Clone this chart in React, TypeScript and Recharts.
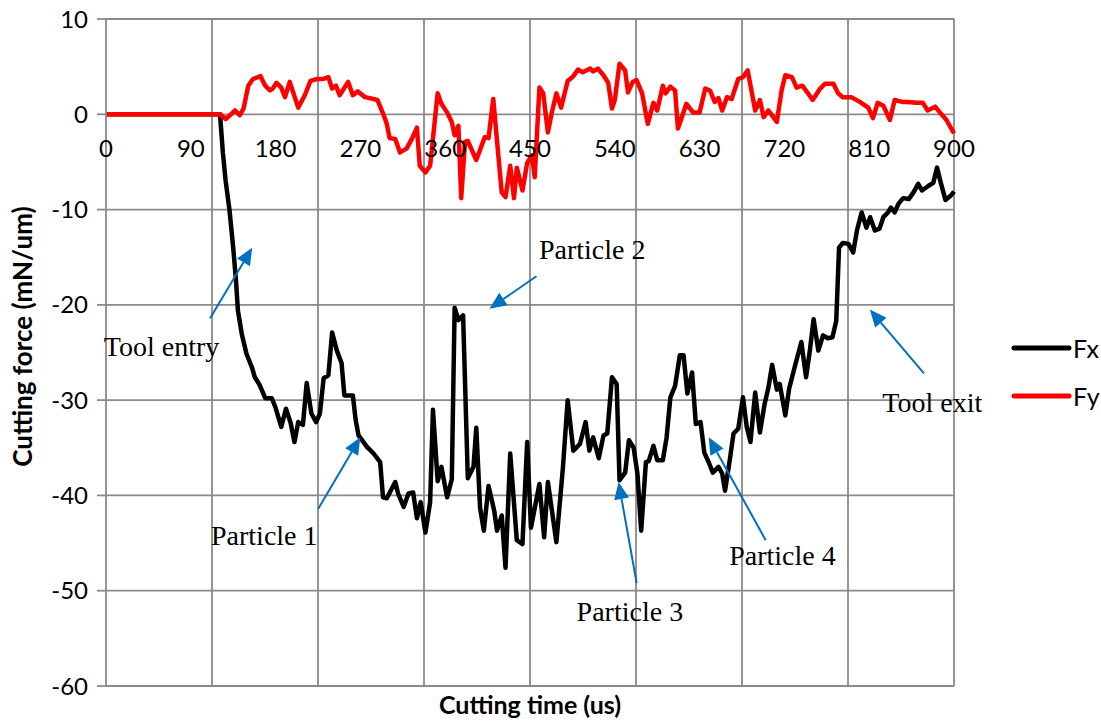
import React from 'react'
import {
  LineChart,
  Line,
  XAxis,
  YAxis,
  CartesianGrid,
  ReferenceLine,
  ReferenceDot,
  Legend,
} from 'recharts'

// Fx: cutting force along x (time in us, force in mN/um)
const fxTime = [
  0, 121, 124, 127, 131, 135, 138, 140, 144, 149, 155, 158, 163, 169, 176, 180, 186, 191, 196, 200,
  204, 209, 213, 218, 223, 227, 231, 236, 240, 245, 250, 253, 262, 265, 268, 277, 284, 291, 294, 298,
  307, 310, 316, 321, 326, 330, 334, 339, 344, 347, 352, 356, 362, 367, 370, 374, 379, 384, 390, 393,
  397, 401, 406, 412, 415, 420, 424, 429, 436, 442, 447, 451, 460, 465, 469, 478, 485, 490, 496, 503,
  509, 513, 517, 523, 528, 532, 537, 542, 545, 551, 555, 560, 564, 568, 573, 576, 581, 585, 591, 595,
  599, 604, 609, 613, 617, 622, 626, 631, 635, 640, 644, 650, 654, 657, 662, 666, 671, 676, 680, 684,
  689, 694, 699, 703, 707, 712, 715, 721, 725, 731, 738, 743, 747, 751, 756, 761, 766, 771, 775, 778,
  782, 788, 793, 797, 802, 807, 811, 816, 821, 825, 830, 833, 837, 841, 846, 852, 857, 862, 866, 873,
  878, 882, 886, 891, 897, 900,
]
const fxForce = [
  0, 0, -4, -7, -10, -14, -17.5, -20.6, -23, -25.1, -26.6, -27.6, -28.4, -29.8, -29.8, -30.8, -32.8, -30.9, -32.4, -34.4,
  -32.3, -32.6, -28.2, -31.4, -32.3, -31.4, -27.7, -27.4, -22.9, -24.8, -26.1, -29.5, -29.5, -32.1, -33.7, -34.9, -35.6, -36.5, -40.2, -40.3,
  -38.6, -39.8, -41.2, -39.8, -39.7, -42.4, -40.7, -43.9, -40.7, -31.0, -38.5, -37.0, -40.2, -38.3, -20.3, -21.6, -21.1, -38.2, -37.0, -32.9,
  -41.3, -43.7, -39.0, -41.6, -43.7, -42.1, -47.6, -35.6, -44.7, -45.1, -34.4, -43.4, -38.8, -44.4, -38.6, -44.9, -37.0, -30.0, -35.3, -34.6,
  -32.3, -35.3, -33.9, -36.1, -33.7, -33.5, -27.6, -28.3, -38.4, -37.6, -34.2, -35.0, -37.7, -43.7, -36.5, -36.4, -34.8, -36.3, -36.3, -33.9,
  -29.7, -28.5, -25.3, -25.3, -29.3, -27.1, -32.5, -32.3, -35.5, -36.6, -37.6, -37.0, -37.7, -39.5, -36.3, -33.5, -33.0, -29.7, -32.8, -34.4,
  -29.2, -33.4, -30.4, -28.7, -26.3, -28.9, -28.3, -31.6, -28.8, -26.5, -23.9, -27.6, -24.8, -21.5, -24.8, -23.2, -23.5, -23.4, -21.7, -14.0,
  -13.5, -13.6, -14.5, -12.2, -10.3, -11.9, -10.8, -12.2, -12.0, -10.8, -10.3, -9.8, -10.3, -9.4, -8.8, -8.9, -8.2, -7.3, -8.0, -7.5,
  -7.2, -5.6, -7.2, -9.0, -8.5, -8.1,
]

// Fy: cutting force along y
const fyTime = [
  0, 121, 127, 137, 142, 146, 151, 156, 164, 169, 174, 177, 181, 186, 190, 195, 204, 211, 217, 224,
  230, 236, 240, 244, 248, 257, 262, 267, 275, 280, 288, 294, 298, 301, 307, 312, 319, 325, 330, 333,
  339, 344, 352, 356, 362, 367, 370, 374, 377, 381, 384, 393, 402, 406, 411, 415, 420, 424, 429, 433,
  436, 442, 447, 452, 455, 460, 464, 469, 473, 478, 483, 490, 496, 501, 506, 514, 517, 522, 528, 533,
  537, 540, 545, 551, 554, 559, 563, 569, 575, 581, 585, 591, 594, 599, 604, 607, 616, 623, 630, 636,
  641, 646, 650, 654, 659, 664, 671, 676, 681, 689, 694, 698, 703, 712, 717, 721, 728, 733, 739, 745,
  750, 758, 763, 772, 777, 782, 791, 800, 809, 814, 819, 825, 832, 837, 845, 851, 860, 867, 872, 880,
  885, 892, 900,
]
const fyForce = [
  0, 0, -0.5, 0.4, -0.1, 0.6, 3.0, 3.7, 4.0, 3.0, 2.5, 2.7, 3.3, 2.8, 1.8, 3.4, 0.7, 2.0, 3.5, 3.7,
  3.7, 3.9, 2.7, 3.0, 2.0, 3.4, 2.0, 2.4, 1.8, 1.7, 1.5, 0.1, -1.0, -2.5, -2.6, -4.0, -3.6, -2.5, -1.4, -5.4,
  -6.1, -5.4, 2.2, 1.1, 0.2, -0.8, -2.2, -1.2, -8.8, -2.9, -2.8, -4.8, -2.4, -2.5, 1.6, -2.8, -8.2, -8.7, -5.4, -8.8,
  -5.6, -8.0, -5.1, -4.3, -6.6, 2.8, 2.2, -1.9, 0.1, 2.2, 0.7, 3.5, 4.0, 4.7, 4.4, 4.8, 4.5, 4.8, 4.1, 3.3,
  0.6, 1.5, 5.3, 4.6, 2.3, 3.4, 3.6, 2.2, -1.0, 1.2, 0.4, 3.0, 2.2, 2.9, 2.5, -1.5, 1.1, 0.2, 0.2, 2.7,
  2.5, 1.3, 1.7, 0.4, 1.8, 1.6, 3.7, 3.9, 4.6, 0.4, 1.5, -0.3, 0.4, -0.8, 2.5, 4.1, 3.9, 2.8, 3.0, 2.2,
  1.5, 2.7, 3.2, 3.2, 2.2, 1.8, 1.8, 1.3, 0.7, -0.4, 1.2, 0.9, -0.6, 1.5, 1.3, 1.3, 1.2, 1.2, 0.4, 0.8,
  0.2, -0.6, -2.0,
]

const timeLabels = [0, 90, 180, 270, 360, 450, 540, 630, 720, 810, 900]
const gridTimes = [112.5, 225, 337.5, 450, 562.5, 675, 787.5, 900]
const forceTicks = [-60, -50, -40, -30, -20, -10, 0, 10]

// annotations (text at [time, force], arrows from tail to head)
const noteText = ['Tool entry', 'Particle 1', 'Particle 2', 'Particle 3', 'Particle 4', 'Tool exit']
const noteAt = [[59, -25.4], [168, -45.2], [516, -15.2], [556, -53.2], [718, -47.3], [877, -31.2]]
const arrowTail = [[110.5, -21.4], [225.3, -41.4], [456.9, -17.0], [563.2, -49.2], [700.2, -44.7], [868.1, -27.2]]
const arrowHead = [[155.2, -14.0], [269.9, -33.9], [407, -20.4], [544, -38.6], [639.7, -33.9], [810.7, -20.5]]

const fxData = fxTime.map((t, i) => ({ time: t, force: fxForce[i] }))
const fyData = fyTime.map((t, i) => ({ time: t, force: fyForce[i] }))

const GRID = '#8a8a8a'
const SANS = 'Lato, "Open Sans", sans-serif'
const SERIF = '"Liberation Serif", "Times New Roman", serif'
const BLUE = '#0070C0'

function Arrow(props: any) {
  const { x1, y1, x2, y2 } = props
  const dx = x2 - x1
  const dy = y2 - y1
  const len = Math.sqrt(dx * dx + dy * dy) || 1
  const ux = dx / len
  const uy = dy / len
  const headLen = 17
  const headW = 7.5
  const bx = x2 - ux * headLen
  const by = y2 - uy * headLen
  const pts = `${x2},${y2} ${bx - uy * headW},${by + ux * headW} ${bx + uy * headW},${by - ux * headW}`
  return (
    <g>
      <line x1={x1} y1={y1} x2={bx} y2={by} stroke={BLUE} strokeWidth={2} />
      <polygon points={pts} fill={BLUE} />
    </g>
  )
}

function renderLegend(props: any) {
  const { payload } = props
  return (
    <div style={{ width: 91 }}>
      {(payload || []).map((p: any) => (
        <div key={p.value} style={{ display: 'flex', alignItems: 'center', height: 48 }}>
          <svg width={62} height={20}>
            <line x1={4} y1={10} x2={59} y2={10} stroke={p.color} strokeWidth={5} strokeLinecap="round" />
          </svg>
          <span style={{ fontFamily: SANS, fontSize: 25, color: '#000', marginLeft: 1 }}>{p.value}</span>
        </div>
      ))}
    </div>
  )
}

export default function App() {
  return (
    <div style={{ position: 'absolute', left: 0, top: 0, width: 1101, height: 721, background: '#fff' }}>
      <LineChart width={1101} height={721} margin={{ top: 19, right: 56, bottom: 0, left: 0 }}>
        <CartesianGrid vertical={false} stroke={GRID} strokeWidth={1.8} />
        {gridTimes.map((t) => (
          <ReferenceLine key={'g' + t} x={t} stroke={GRID} strokeWidth={1.8} />
        ))}
        <XAxis
          type="number"
          dataKey="time"
          domain={[0, 900]}
          ticks={timeLabels}
          tick={false}
          tickLine={false}
          axisLine={false}
          height={35}
          label={{
            content: (p: any) => {
              const vb = p.viewBox
              return (
                <text
                  x={vb.x + vb.width / 2}
                  y={vb.y + 18}
                  textAnchor="middle"
                  dominantBaseline="central"
                  fontFamily={SANS}
                  fontWeight="bold"
                  fontSize={25}
                  fill="#000"
                >
                  Cutting time (us)
                </text>
              )
            },
          }}
        />
        <YAxis
          type="number"
          domain={[-60, 10]}
          ticks={forceTicks}
          width={106}
          tickSize={9}
          tickMargin={9}
          axisLine={{ stroke: GRID, strokeWidth: 1.8 }}
          tickLine={{ stroke: GRID, strokeWidth: 1.8 }}
          tick={{ fontFamily: SANS, fontSize: 24, fill: '#000' }}
          label={{
            content: (p: any) => {
              const vb = p.viewBox
              const cx = vb.x + 22
              const cy = vb.y + vb.height / 2 - 16
              return (
                <text
                  x={cx}
                  y={cy}
                  transform={`rotate(-90, ${cx}, ${cy})`}
                  textAnchor="middle"
                  dominantBaseline="central"
                  fontFamily={SANS}
                  fontWeight="bold"
                  fontSize={26}
                  fill="#000"
                >
                  Cutting force (mN/um)
                </text>
              )
            },
          }}
        />
        {timeLabels.map((t) => (
          <ReferenceDot
            key={'l' + t}
            x={t}
            y={0}
            r={0}
            ifOverflow="visible"
            shape={(p: any) => (
              <text x={p.cx} y={p.cy + 43} textAnchor="middle" fontFamily={SANS} fontSize={24} fill="#000">
                {t}
              </text>
            )}
          />
        ))}
        <Line
          data={fxData}
          dataKey="force"
          name="Fx"
          type="linear"
          stroke="#000000"
          strokeWidth={4.5}
          strokeLinejoin="round"
          dot={false}
          isAnimationActive={false}
        />
        <Line
          data={fyData}
          dataKey="force"
          name="Fy"
          type="linear"
          stroke="#ff0000"
          strokeWidth={4.5}
          strokeLinejoin="round"
          dot={false}
          isAnimationActive={false}
        />
        {noteText.map((s, i) => (
          <ReferenceLine
            key={'a' + i}
            segment={[
              { x: arrowTail[i][0], y: arrowTail[i][1] },
              { x: arrowHead[i][0], y: arrowHead[i][1] },
            ]}
            ifOverflow="visible"
            shape={Arrow}
          />
        ))}
        {noteText.map((s, i) => (
          <ReferenceDot
            key={'n' + i}
            x={noteAt[i][0]}
            y={noteAt[i][1]}
            r={0}
            ifOverflow="visible"
            shape={(p: any) => (
              <text x={p.cx} y={p.cy} textAnchor="middle" fontFamily={SERIF} fontSize={28} fill="#000">
                {s}
              </text>
            )}
          />
        ))}
        <Legend
          layout="vertical"
          align="right"
          verticalAlign="middle"
          content={renderLegend}
          wrapperStyle={{ left: 1010, top: 324, width: 91, right: 'auto' }}
        />
      </LineChart>
    </div>
  )
}
